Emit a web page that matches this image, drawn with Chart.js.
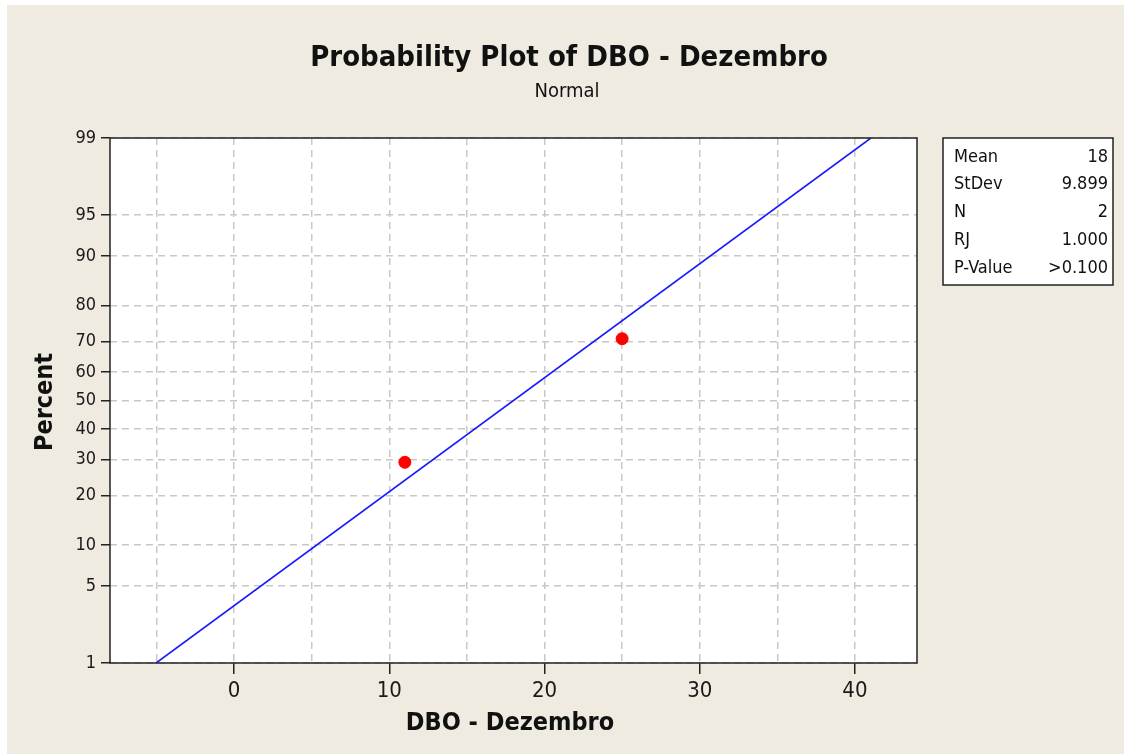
<!DOCTYPE html>
<html>
<head>
<meta charset="utf-8">
<script src="https://cdn.jsdelivr.net/npm/chart.js@4"></script>
<style>
  body { margin: 0; background: #ffffff; }
  #wrap { position: absolute; left: 7px; top: 5px; width: 1117px; height: 749px; background: #efebe1; }
</style>
</head>
<body>
<div id="wrap"><canvas id="mycanvas" width="1117" height="749"></canvas></div>
<script>
// data
var dboX = [11, 25];
var dboPercent = [29.2, 70.8];
var fitX = [-5.03, 41.03];
var fitPercent = [1, 99];
var percentTicks = [1, 5, 10, 20, 30, 40, 50, 60, 70, 80, 90, 95, 99];
var xTicks = [-5, 0, 5, 10, 15, 20, 25, 30, 35, 40];
var statNames = ['Mean', 'StDev', 'N', 'RJ', 'P-Value'];
var statValues = ['18', '9.899', '2', '1.000', '>0.100'];

// inverse normal cdf (Acklam)
function probit(p) {
	var a = [-39.6968302866538, 220.946098424521, -275.928510446969, 138.357751867269, -30.6647980661472, 2.50662827745924];
	var b = [-54.4760987982241, 161.585836858041, -155.698979859887, 66.8013118877197, -13.2806815528857];
	var c = [-0.00778489400243029, -0.322396458041136, -2.40075827716184, -2.54973253934373, 4.37466414146497, 2.93816398269878];
	var d = [0.00778469570904146, 0.32246712907004, 2.445134137143, 3.75440866190742];
	var q, r;
	if (p < 0.02425) {
		q = Math.sqrt(-2 * Math.log(p));
		return (((((c[0]*q+c[1])*q+c[2])*q+c[3])*q+c[4])*q+c[5]) / ((((d[0]*q+d[1])*q+d[2])*q+d[3])*q+1);
	}
	if (p > 1 - 0.02425) {
		q = Math.sqrt(-2 * Math.log(1 - p));
		return -(((((c[0]*q+c[1])*q+c[2])*q+c[3])*q+c[4])*q+c[5]) / ((((d[0]*q+d[1])*q+d[2])*q+d[3])*q+1);
	}
	q = p - 0.5; r = q * q;
	return (((((a[0]*r+a[1])*r+a[2])*r+a[3])*r+a[4])*r+a[5])*q / (((((b[0]*r+b[1])*r+b[2])*r+b[3])*r+b[4])*r+1);
}

// normal probability scale
class ProbitScale extends Chart.LinearScale {
	getPixelForValue(value) {
		var z0 = probit(this.min / 100), z1 = probit(this.max / 100);
		return this.getPixelForDecimal((probit(value / 100) - z0) / (z1 - z0));
	}
	getValueForPixel(pixel) {
		return this.min + (this.max - this.min) * this.getDecimalForPixel(pixel);
	}
}
ProbitScale.id = 'probit';
ProbitScale.defaults = Chart.LinearScale.defaults;
Chart.register(ProbitScale);

var FONT = '"DejaVu Sans Condensed", "DejaVu Sans", sans-serif';

var framePlugin = {
	id: 'frame',
	beforeDraw: function(chart) {
		var a = chart.chartArea, c = chart.ctx;
		c.save();
		c.fillStyle = '#ffffff';
		c.fillRect(a.left, a.top, a.right - a.left, a.bottom - a.top);
		c.restore();
	},
	afterDraw: function(chart) {
		var a = chart.chartArea, c = chart.ctx;
		c.save();
		c.strokeStyle = '#222';
		c.lineWidth = 1.5;
		c.strokeRect(a.left, a.top, a.right - a.left, a.bottom - a.top);

		c.fillStyle = '#111';
		c.textAlign = 'center';
		c.textBaseline = 'middle';
		c.font = 'bold 29px ' + FONT;
		c.fillText('Probability Plot of DBO - Dezembro', 562, 53);
		c.font = '20px ' + FONT;
		c.fillText('Normal', 560, 87);

		c.font = 'bold 25px ' + FONT;
		c.fillText('DBO - Dezembro', 503, 718);
		c.save();
		c.translate(38, 397);
		c.rotate(-Math.PI / 2);
		c.fillText('Percent', 0, 0);
		c.restore();

		// stats box
		c.fillStyle = '#ffffff';
		c.fillRect(936, 133, 170, 147);
		c.strokeStyle = '#222';
		c.lineWidth = 1.5;
		c.strokeRect(936, 133, 170, 147);
		c.fillStyle = '#111';
		c.font = '18px ' + FONT;
		for (var i = 0; i < statNames.length; i++) {
			var y = 152 + i * 27.8;
			c.textAlign = 'left';
			c.fillText(statNames[i], 947, y);
			c.textAlign = 'right';
			c.fillText(statValues[i], 1101, y);
		}
		c.restore();
	}
};

var ctx = document.getElementById('mycanvas');

var probPlot = new Chart(ctx, {
	type: 'scatter',
	data: {
		datasets: [
			{
				label: 'Fit',
				type: 'line',
				data: fitX.map(function(x, i) { return {x: x, y: fitPercent[i]}; }),
				borderColor: '#1a1aff',
				borderWidth: 1.6,
				pointRadius: 0,
				fill: false
			},
			{
				label: 'DBO - Dezembro',
				data: dboX.map(function(x, i) { return {x: x, y: dboPercent[i]}; }),
				backgroundColor: '#ff0000',
				borderColor: '#ff0000',
				pointRadius: 6,
				pointHoverRadius: 6
			}
		]
	},
	options: {
		responsive: false,
		animation: false,
		layout: { padding: { left: 0, top: 133, right: 207, bottom: 0 } },
		plugins: { legend: { display: false }, tooltip: { enabled: false } },
		scales: {
			x: {
				type: 'linear',
				min: -8,
				max: 44,
				afterBuildTicks: function(scale) {
					scale.ticks = xTicks.map(function(v) { return {value: v}; });
				},
				afterFit: function(scale) { scale.height = 91; },
				ticks: {
					color: '#1a1a1a',
					font: { family: FONT, size: 22 },
					padding: 4,
					maxRotation: 0,
					autoSkip: false,
					callback: function(v) { return v % 10 === 0 ? String(v) : ''; }
				},
				grid: {
					color: '#c8c8c8',
					lineWidth: 1.5,
					tickLength: 11,
					tickWidth: 1.5,
					tickColor: function(c) { return c.tick && c.tick.value % 10 === 0 ? '#222' : 'rgba(0,0,0,0)'; }
				},
				border: { display: false, dash: [7, 5] }
			},
			y: {
				type: 'probit',
				min: 1,
				max: 99,
				afterBuildTicks: function(scale) {
					scale.ticks = percentTicks.map(function(v) { return {value: v}; });
				},
				afterFit: function(scale) { scale.width = 103; },
				ticks: {
					color: '#1a1a1a',
					font: { family: FONT, size: 18 },
					padding: 5,
					autoSkip: false,
					callback: function(v) { return String(v); }
				},
				grid: {
					color: '#c8c8c8',
					lineWidth: 1.5,
					tickLength: 9,
					tickWidth: 1.5,
					tickColor: '#222'
				},
				border: { display: false, dash: [7, 5] }
			}
		}
	},
	plugins: [framePlugin]
});
</script>
</body>
</html>
